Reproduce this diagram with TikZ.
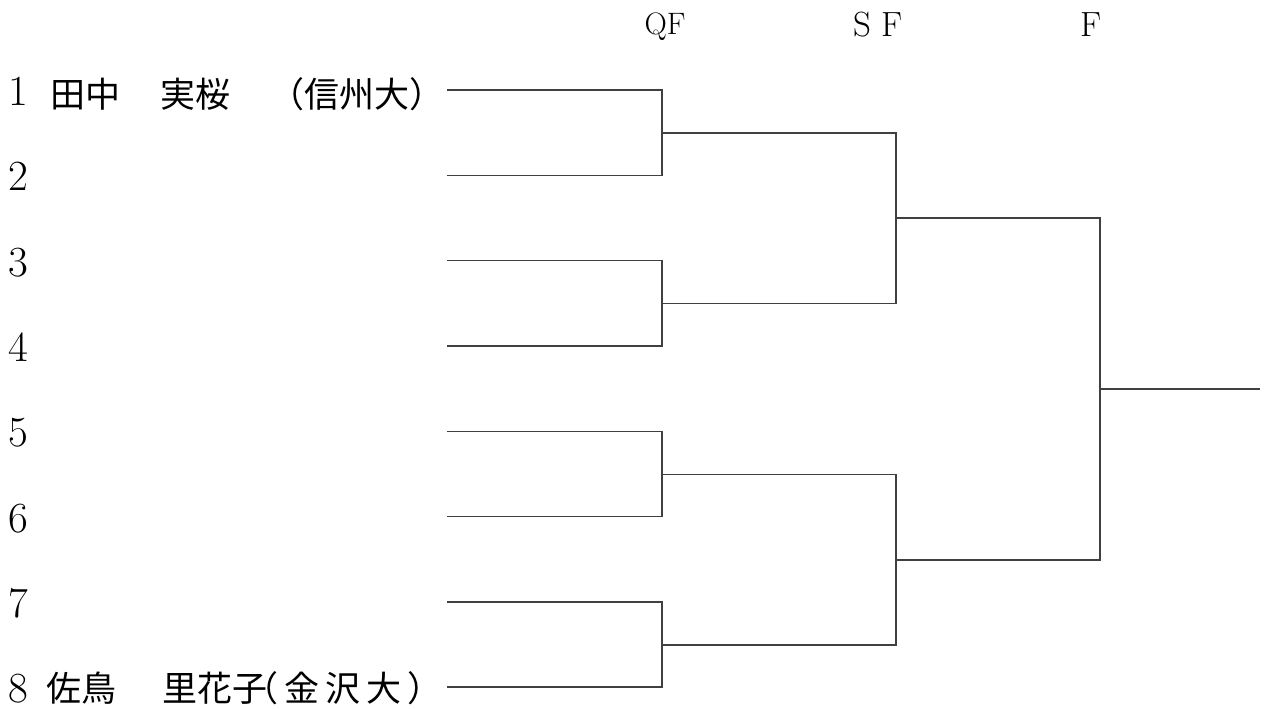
\documentclass[tikz,border=0pt]{standalone}
\usepackage{fontspec}
\newfontfamily\jp{Noto Sans CJK JP}

\begin{document}
\begin{tikzpicture}[x=1pt, y=-1pt, line width=1.4pt, draw=black!75,
    num/.style={anchor=base, inner sep=0pt, font=\fontsize{43}{48}\selectfont},
    round/.style={anchor=base, inner sep=0pt, font=\fontsize{32}{38}\selectfont},
    jname/.style={anchor=base west, inner sep=0pt, font=\jp\fontsize{35}{40}\selectfont},
    juniv/.style={anchor=base, inner sep=0pt, font=\jp\fontsize{35}{40}\selectfont}]
    \useasboundingbox (0,0) rectangle (1266,709);

    \node[round, font=\fontsize{31}{36}\selectfont] (QF) at (665,35) {QF};
    \node[round, font=\fontsize{35}{40}\selectfont] (SF) at (878,37) {S F};
    \node[round, font=\fontsize{35}{40}\selectfont] (F)  at (1091,37) {F};

    \foreach \i in {1,...,8} {
        \pgfmathsetmacro{\ypos}{90+85.3*(\i-1)}
        \node[num] (n\i) at (18,{\ypos+15.5}) {\i};
        \coordinate (e\i) at (447,\ypos);
    }

    \node[jname] (fam1) at (50,107) {田中};
    \node[jname] (giv1) at (160,107) {実桜};
    \node[juniv] (uni1) at (357,107) {（信州大）};
    \node[jname] (fam8) at (46,701) {佐鳥};
    \node[jname] (giv8) at (162,701) {里花子};
    \node[juniv] (uni8) at (343,701) {（\,金\,沢\,大\,）};

    \coordinate (q1) at (662,133);
    \coordinate (q2) at (662,303.5);
    \coordinate (q3) at (662,474.5);
    \coordinate (q4) at (662,645);
    \coordinate (s1) at (896,218);
    \coordinate (s2) at (896,560);
    \coordinate (f)  at (1100,389);
    \coordinate (w)  at (1260,389);

    \draw (e1) -| (q1) |- (e2);
    \draw (e3) -| (q2) |- (e4);
    \draw (e5) -| (q3) |- (e6);
    \draw (e7) -| (q4) |- (e8);
    \draw (q1) -| (s1) |- (q2);
    \draw (q3) -| (s2) |- (q4);
    \draw (s1) -| (f) |- (s2);
    \draw (f) -- (w);
\end{tikzpicture}
\end{document}
